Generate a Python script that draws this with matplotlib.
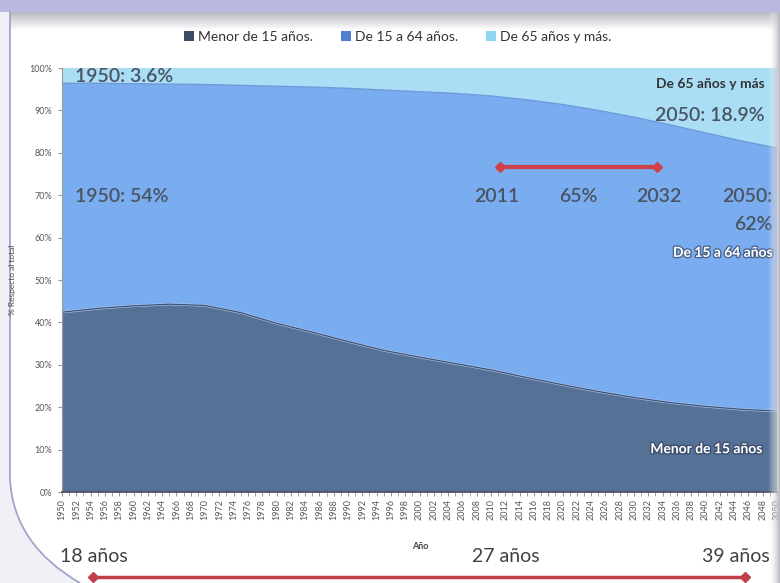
import matplotlib
matplotlib.use("Agg")
import matplotlib.pyplot as plt
import numpy as np
from matplotlib.patches import Patch, Rectangle, PathPatch
from matplotlib.path import Path
import matplotlib.patheffects as pe

plt.rcParams['font.family'] = ['Lato', 'DejaVu Sans']

# ---- data ----
years = [1950, 1955, 1960, 1965, 1970, 1975, 1980, 1985, 1990, 1995, 2000,
         2005, 2010, 2015, 2020, 2025, 2030, 2035, 2040, 2045, 2050]
menor15 = [42.4, 43.3, 43.9, 44.3, 44.0, 42.3, 39.8, 37.7, 35.5, 33.4, 31.8,
           30.3, 28.8, 27.0, 25.3, 23.7, 22.3, 21.1, 20.2, 19.5, 19.1]
mayor65 = [3.6, 3.6, 3.7, 3.8, 3.9, 4.1, 4.3, 4.5, 4.8, 5.2, 5.6,
           6.0, 6.6, 7.5, 8.6, 10.0, 11.6, 13.4, 15.3, 17.2, 18.9]
de15a64 = [100 - a - b for a, b in zip(menor15, mayor65)]
series_labels = ["Menor de 15 años.", "De 15 a 64 años.", "De 65 años y más."]
colors = ["#557196", "#7AACF0", "#A9DEF5"]
yticks = [0, 10, 20, 30, 40, 50, 60, 70, 80, 90, 100]
xticks = list(range(1950, 2051, 2))

fig = plt.figure(figsize=(7.8, 5.83), dpi=100)
fig.patch.set_facecolor("white")

W, H = 780, 583
def fx(px): return px / W
def fy(py): return 1 - py / H

# frame decorations
fig.add_artist(Rectangle((0, fy(12)), 1, 12 / H, transform=fig.transFigure,
                         facecolor="#B8B8E0", edgecolor="none", zorder=0))
grad = np.linspace(0, 1, 50).reshape(-1, 1)
gax = fig.add_axes([fx(10), fy(30), 1 - fx(10), 18 / H], zorder=0)
gax.imshow(grad, aspect="auto", cmap=matplotlib.colors.LinearSegmentedColormap.from_list(
    "g", ["#B8B8C2", "#FFFFFF"]), extent=[0, 1, 0, 1], origin="upper")
gax.set_axis_off()
verts = [(fx(10), fy(12)), (fx(10), fy(480)), (fx(14), fy(545)), (fx(80), fy(583))]
codes = [Path.MOVETO, Path.LINETO, Path.CURVE3, Path.CURVE3]
fig.add_artist(PathPatch(Path(verts + [(0, 0), (0, fy(12))], codes + [Path.LINETO, Path.LINETO]),
                         transform=fig.transFigure, facecolor="#F0F0F6", edgecolor="none", zorder=0))
fig.add_artist(PathPatch(Path(verts, codes), transform=fig.transFigure, fill=False,
                         edgecolor="#9FA6C8", lw=1.3, zorder=1))
rg = np.linspace(0, 1, 50).reshape(1, -1)
rax = fig.add_axes([fx(768), 0, fx(12), fy(12)], zorder=3)
rax.imshow(rg, aspect="auto", cmap=matplotlib.colors.LinearSegmentedColormap.from_list(
    "r", ["#FFFFFF00", "#B8B8C0"]), extent=[0, 1, 0, 1])
rax.set_axis_off()

ax = fig.add_axes([fx(62), fy(492), fx(777) - fx(62), (492 - 68) / H], zorder=2)
ax.stackplot(years, menor15, de15a64, mayor65, colors=colors, labels=series_labels)
c1 = np.array(menor15)
c2 = c1 + np.array(de15a64)
ax.plot(years, c1, color="#A8C6F2", lw=1.8)
ax.plot(years, c1, color="#3F5070", lw=0.9)
ax.plot(years, c2, color="#6E9ADB", lw=1.0)

ax.set_xlim(1950, 2050)
ax.set_ylim(0, 100)
ax.set_yticks(yticks)
ax.set_yticklabels([f"{v}%" for v in yticks], fontsize=6.5, color="#555555")
ax.set_xticks(xticks)
ax.set_xticklabels([str(v) for v in xticks], rotation=90, fontsize=6.5, color="#555555")
ax.set_xticks(range(1950, 2051), minor=True)
ax.tick_params(axis="x", which="both", length=3, color="#999999", pad=2)
ax.tick_params(axis="y", length=3, color="#999999", pad=4)
for s in ["top", "right"]:
    ax.spines[s].set_visible(False)
ax.spines["left"].set_color("#9A9A9A")
ax.spines["bottom"].set_color("#4A4A5A")
ax.spines["bottom"].set_linewidth(1.2)
ax.set_xlabel("Año", fontsize=6.5, color="#444444", labelpad=4, fontweight="bold")
ax.xaxis.set_label_coords((420 - 62) / 715, (492 - 542) / 424)
fig.text(fx(13), fy(280), "% Respecto al total", rotation=90, fontsize=6,
         color="#444444", ha="center", va="center")

handles = [Patch(facecolor=c, edgecolor="none") for c in ["#3D4A66", "#4F7FCF", "#8ED6F2"]]
fig.legend(handles, series_labels, loc="center", bbox_to_anchor=(0.51, fy(37)), ncol=3,
           frameon=False, fontsize=10, handlelength=0.7, handleheight=0.7,
           handletextpad=0.3, columnspacing=2.0, labelcolor="#333333")

tc = "#4A5462"
fs = 14
fw = "semibold"
ax.text(1951.8, 97.9, "1950: 3.6%", fontsize=fs, color=tc, va="center", ha="left", fontweight=fw)
ax.text(1951.8, 69.6, "1950: 54%", fontsize=fs, color=tc, va="center", ha="left", fontweight=fw)
ax.text(2048.3, 96.2, "De 65 años y más", fontsize=10, color="#333333",
        fontweight="bold", va="center", ha="right")
ax.text(2048.3, 88.7, "2050: 18.9%", fontsize=fs, color=tc, va="center", ha="right", fontweight=fw)
ax.plot([2011.3, 2033.2], [76.7, 76.7], "-", color="#D04048", lw=3)
ax.plot([2011.3, 2033.2], [76.7, 76.7], "D", color="#D04048", ms=5)
ax.text(2010.8, 69.6, "2011", fontsize=fs, color=tc, va="center", ha="center", fontweight=fw)
ax.text(2022.2, 69.6, "65%", fontsize=fs, color=tc, va="center", ha="center", fontweight=fw)
ax.text(2033.5, 69.6, "2032", fontsize=fs, color=tc, va="center", ha="center", fontweight=fw)
ax.text(2049.4, 69.6, "2050:", fontsize=fs, color=tc, va="center", ha="right", fontweight=fw)
ax.text(2049.4, 63.0, "62%", fontsize=fs, color=tc, va="center", ha="right", fontweight=fw)
shadow = [pe.withStroke(linewidth=2, foreground="#2A3550", alpha=0.6)]
ax.text(2049.4, 56.4, "De 15 a 64 años", fontsize=10, color="white",
        fontweight="bold", va="center", ha="right", path_effects=shadow)
ax.text(2048.0, 10.1, "Menor de 15 años", fontsize=10, color="white",
        fontweight="bold", va="center", ha="right", path_effects=shadow)

bc = "#404040"
fig.text(fx(60), fy(557), "18 años", fontsize=14, color=bc, va="center", ha="left")
fig.text(fx(472), fy(557), "27 años", fontsize=14, color=bc, va="center", ha="left")
fig.text(fx(770), fy(557), "39 años", fontsize=14, color=bc, va="center", ha="right")
fig.add_artist(plt.Line2D([fx(93), fx(745)], [fy(577), fy(577)], transform=fig.transFigure,
                          color="#C0404A", lw=2.5))
fig.add_artist(plt.Line2D([fx(93), fx(745)], [fy(577), fy(577)], transform=fig.transFigure,
                          color="#C0404A", lw=0, marker="D", ms=5))

fig.savefig("out.png", dpi=100, facecolor=fig.get_facecolor())
